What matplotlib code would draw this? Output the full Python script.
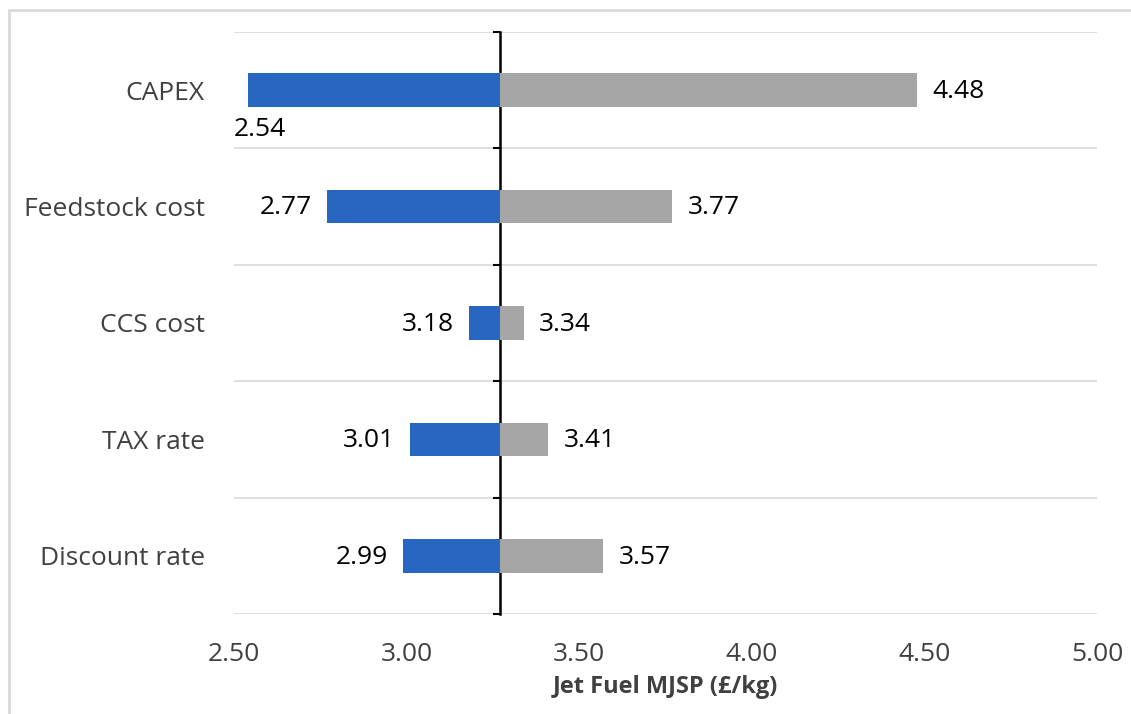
import numpy as np
import matplotlib.pyplot as plt
from matplotlib.patches import Rectangle

# Sensitivity of jet fuel minimum selling price to each parameter
categories = ["CAPEX", "Feedstock cost", "CCS cost", "TAX rate", "Discount rate"]
low_values = [2.54, 2.77, 3.18, 3.01, 2.99]
high_values = [4.48, 3.77, 3.34, 3.41, 3.57]
base_value = 3.27
x_ticks = [2.50, 3.00, 3.50, 4.00, 4.50, 5.00]

blue = "#2767C2"
grey = "#A6A6A6"

plt.rcParams["font.family"] = ["Open Sans", "DejaVu Sans"]
plt.rcParams["font.size"] = 19

fig = plt.figure(figsize=(11.31, 7.14), dpi=100)
ax = fig.add_axes([234 / 1131, 1 - 614 / 714, (1097 - 234) / 1131, (614 - 32) / 714])

# outer chart frame (light grey)
fig.patches.append(Rectangle((9 / 1131, -0.1), 1.2, 1 - 10 / 714 + 0.1,
                             transform=fig.transFigure, fill=False,
                             edgecolor="#d9d9d9", linewidth=2))

y = np.arange(len(categories))
bar_h = 0.29

ax.barh(y, np.array(low_values) - base_value, left=base_value, height=bar_h, color=blue, zorder=2)
ax.barh(y, np.array(high_values) - base_value, left=base_value, height=bar_h, color=grey, zorder=2)

ax.set_xlim(x_ticks[0], x_ticks[-1])
ax.set_ylim(len(categories) - 0.5, -0.5)

# horizontal gridlines between categories
for b in np.arange(-0.5, len(categories), 1.0):
    ax.axhline(b, color="#d9d9d9", linewidth=1.2, zorder=0)

# value labels
for yi, lo, hi in zip(y, low_values, high_values):
    if lo - 0.17 < x_ticks[0]:
        ax.annotate(f"{lo:.2f}", (x_ticks[0], yi + bar_h / 2), xytext=(0, -7),
                    textcoords="offset points", ha="left", va="top", color="black")
    else:
        ax.annotate(f"{lo:.2f}", (lo, yi), xytext=(-11, -1),
                    textcoords="offset points", ha="right", va="center", color="black")
    ax.annotate(f"{hi:.2f}", (hi, yi), xytext=(11, -1),
                textcoords="offset points", ha="left", va="center", color="black")

for s in ax.spines.values():
    s.set_visible(False)

ax.set_yticks(y)
ax.set_yticklabels(categories, color="#404040")
ax.tick_params(axis="y", length=0, pad=21)

ax.set_xticks(x_ticks)
ax.set_xticklabels([f"{t:.2f}" for t in x_ticks], color="#404040")
ax.tick_params(axis="x", length=0, pad=20)
ax.set_xlabel("Jet Fuel MJSP (£/kg)", fontweight="bold", fontsize=17, color="#404040", labelpad=6)

# vertical axis through the base case value
base_axis = ax.secondary_yaxis((base_value - x_ticks[0]) / (x_ticks[-1] - x_ticks[0]))
base_axis.spines["left"].set_linewidth(1.8)
base_axis.spines["left"].set_color("black")
base_axis.set_yticks(np.arange(-0.5, len(categories), 1.0))
base_axis.set_yticklabels([])
base_axis.tick_params(axis="y", direction="out", length=5, width=1.5, color="black")

fig.savefig("out.png", dpi=100)
